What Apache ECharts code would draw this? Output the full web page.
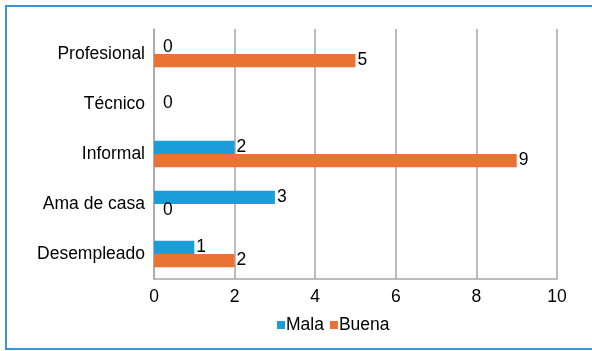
<!DOCTYPE html>
<html>
<head>
<meta charset="utf-8">
<script src="https://cdn.jsdelivr.net/npm/echarts@6/dist/echarts.min.js"></script>
<style>
html,body{margin:0;padding:0;background:#fff;}
#chart{width:592px;height:351px;}
</style>
</head>
<body>
<div id="chart"></div>
<script>
// Categories listed bottom to top
const categories = ['Desempleado', 'Ama de casa', 'Informal', 'Técnico', 'Profesional'];
const mala = [1, 3, 2, 0, 0];
const buena = [2, 0, 9, 0, 5];
const xTicks = [0, 2, 4, 6, 8, 10];

const FONT = 'Liberation Sans, Arial, sans-serif';
const BLUE = '#1A9DD8';
const ORANGE = '#EA7232';
const FS = 17.5;

function items(values, other, isMala) {
  return values.map((v, i) => {
    const item = { value: v };
    if (v === 0) {
      if (other[i] === 0) {
        item.label = isMala ? { offset: [7, 6] } : { show: false };
      } else {
        item.label = { offset: [7, 0] };
      }
    }
    return item;
  });
}

const labelStyle = {
  show: true,
  position: 'right',
  distance: 2,
  color: '#000',
  fontSize: FS,
  fontFamily: FONT
};

const chart = echarts.init(document.getElementById('chart'));
chart.setOption({
  animation: false,
  backgroundColor: '#fff',
  graphic: [{
    type: 'rect',
    shape: { x: 6, y: 6, width: 600, height: 343 },
    style: { fill: 'none', stroke: '#3A96D6', lineWidth: 2 },
    silent: true
  }],
  grid: { left: 154, right: 35, top: 29, bottom: 72, containLabel: false },
  legend: {
    data: ['Mala', 'Buena'],
    left: 272,
    top: 311,
    icon: 'rect',
    itemWidth: 8,
    itemHeight: 8,
    itemGap: 6,
    textStyle: { color: '#000', fontSize: FS, fontFamily: FONT, padding: [0, 0, 0, -4] }
  },
  xAxis: {
    type: 'value',
    min: xTicks[0],
    max: xTicks[xTicks.length - 1],
    interval: 2,
    axisLine: { show: true, lineStyle: { color: '#A6A6A6', width: 1.5 } },
    axisTick: { show: false },
    splitLine: { show: true, lineStyle: { color: '#A6A6A6', width: 1.5 } },
    axisLabel: { color: '#000', fontSize: FS, fontFamily: FONT, margin: 9 }
  },
  yAxis: {
    type: 'category',
    data: categories,
    axisLine: { show: true, lineStyle: { color: '#A6A6A6', width: 1.5 } },
    axisTick: { show: false },
    axisLabel: { color: '#000', fontSize: FS, fontFamily: FONT, margin: 9 }
  },
  series: [
    {
      name: 'Mala',
      type: 'bar',
      data: items(mala, buena, true),
      itemStyle: { color: BLUE },
      barWidth: 13.3,
      barGap: 0,
      label: labelStyle
    },
    {
      name: 'Buena',
      type: 'bar',
      data: items(buena, mala, false),
      itemStyle: { color: ORANGE },
      barWidth: 13.3,
      barGap: 0,
      label: labelStyle
    }
  ]
});
</script>
</body>
</html>
